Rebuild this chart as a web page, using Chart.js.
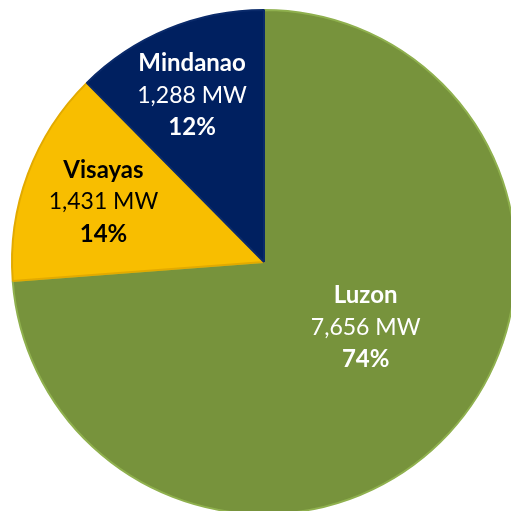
<!DOCTYPE html>
<html>
<head>
<meta charset="utf-8">
<script src="https://cdn.jsdelivr.net/npm/chart.js@4.4.1/dist/chart.umd.min.js"></script>
<style>
  html, body { margin: 0; padding: 0; background: #fff; overflow: hidden; }
  #wrap { position: absolute; left: 0; top: 0; width: 528px; height: 524px; }
</style>
</head>
<body>
<div id="wrap"><canvas id="pie"></canvas></div>
<script>
const regions = ['Luzon', 'Visayas', 'Mindanao'];
const capacityMW = [7656, 1431, 1288];
const shareLabels = ['74%', '14%', '12%'];
const sliceColors = ['#77933C', '#F8BE00', '#002060'];
const edgeColors = ['#8FB04E', '#E2AA00', '#0A2A6A'];
const textColors = ['#ffffff', '#000000', '#ffffff'];

// where the text block sits: fraction of radius, angle shift in degrees
const labelSpots = [[0.48, -10], [0.68, 0], [0.72, -1]];

const sliceLabels = {
  id: 'sliceLabels',
  afterDatasetsDraw(chart) {
    const ctx = chart.ctx;
    const meta = chart.getDatasetMeta(0);
    meta.data.forEach((arc, i) => {
      const p = arc.getProps(['x', 'y', 'startAngle', 'endAngle', 'outerRadius'], true);
      const mid = (p.startAngle + p.endAngle) / 2 + labelSpots[i][1] * Math.PI / 180;
      const r = p.outerRadius * labelSpots[i][0];
      const cx = p.x + Math.cos(mid) * r;
      const cy = p.y + Math.sin(mid) * r;
      const lines = [
        { t: regions[i], f: 'bold 24px Lato' },
        { t: capacityMW[i].toLocaleString('en-US') + ' MW', f: '23px Lato' },
        { t: shareLabels[i], f: 'bold 24px Lato' }
      ];
      ctx.save();
      ctx.textAlign = 'center';
      ctx.textBaseline = 'middle';
      ctx.fillStyle = textColors[i];
      lines.forEach((ln, k) => {
        ctx.font = ln.f;
        ctx.fillText(ln.t, cx, cy + (k - 1) * 32);
      });
      ctx.restore();
    });
  }
};

new Chart(document.getElementById('pie'), {
  type: 'pie',
  data: {
    labels: regions,
    datasets: [{
      data: capacityMW,
      backgroundColor: sliceColors,
      borderColor: edgeColors,
      borderWidth: 2
    }]
  },
  options: {
    responsive: true,
    maintainAspectRatio: false,
    animation: false,
    layout: { padding: 9 },
    plugins: {
      legend: { display: false },
      tooltip: { enabled: false }
    }
  },
  plugins: [sliceLabels]
});
</script>
</body>
</html>
